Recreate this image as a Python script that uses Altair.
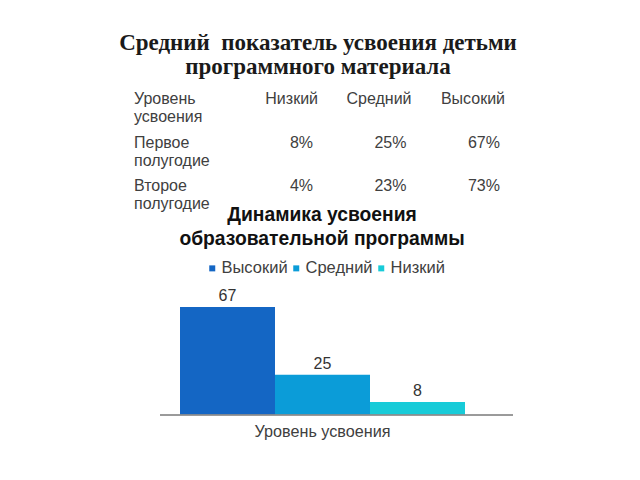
import altair as alt
import pandas as pd

# ---- data ----
slide_title = "Средний\u00a0\u00a0показатель усвоения детьми\nпрограммного материала"
chart_title = "Динамика усвоения\nобразовательной программы"

levels = ["Низкий", "Средний", "Высокий"]
first_half = [8, 25, 67]
second_half = [4, 23, 73]
row_labels = ["Уровень\nусвоения", "Первое\nполугодие", "Второе\nполугодие"]

series = ["Высокий", "Средний", "Низкий"]
series_values = [67, 25, 8]
series_colors = ["#1466C4", "#0B9CD8", "#17CBD8"]
category = "Уровень усвоения"

FONT = "Liberation Sans"

# ---- tables ----
bars_df = pd.DataFrame({"cat": [category] * 3, "series": series, "value": series_values})
rows_df = pd.DataFrame({"row": row_labels})
head_df = pd.DataFrame({"level": levels})
vals_df = pd.DataFrame({
    "level": levels * 2,
    "row": [row_labels[1]] * 3 + [row_labels[2]] * 3,
    "txt": [f"{v}%" for v in first_half] + [f"{v}%" for v in second_half],
})
title_df = pd.DataFrame({"t": [slide_title]})
ctitle_df = pd.DataFrame({"t": [chart_title]})

x_bar_scale = alt.Scale(domain=[category], range=[180, 465], paddingInner=0, paddingOuter=0)
xo_scale = alt.Scale(domain=series, paddingInner=0, paddingOuter=0)
xo_point_scale = alt.Scale(type="point", domain=series, padding=0.5)
y_bar_scale = alt.Scale(domain=[0, 80], range=[415, 286], nice=False, zero=True)
row_scale = alt.Scale(domain=row_labels, range=[91, 178], padding=0)
col_scale = alt.Scale(domain=levels, range=[313, 500], padding=0)

base_bars = alt.Chart(bars_df)

bars = base_bars.mark_bar().encode(
    x=alt.X("cat:N", scale=x_bar_scale, axis=None),
    xOffset=alt.XOffset("series:N", scale=xo_scale),
    y=alt.Y("value:Q", scale=y_bar_scale, axis=None),
    color=alt.Color(
        "series:N",
        scale=alt.Scale(domain=series, range=series_colors),
        legend=alt.Legend(
            title=None, orient="none", legendX=204, legendY=260,
            direction="horizontal", symbolType="square", symbolSize=36,
            symbolStrokeWidth=0, labelFont=FONT, labelFontSize=16.5,
            labelColor="#404040", columnPadding=0, labelOffset=1,
        ),
    ),
)

bar_labels = base_bars.mark_text(
    font=FONT, fontSize=16, dy=-11, color="#333333"
).encode(
    x=alt.X("cat:N", scale=x_bar_scale, axis=None),
    xOffset=alt.XOffset("series:N", scale=xo_point_scale),
    y=alt.Y("value:Q", scale=y_bar_scale, axis=None),
    text="value:Q",
)

baseline = base_bars.mark_rule(color="#8c8c8c", strokeWidth=1).encode(
    y=alt.Y(datum=0, scale=y_bar_scale, axis=None),
    x=alt.value(160), x2=alt.value(513),
)

cat_label = alt.Chart(pd.DataFrame({"cat": [category]})).mark_text(
    font=FONT, fontSize=16.2, color="#404040", baseline="middle"
).encode(
    x=alt.X("cat:N", scale=x_bar_scale, axis=None),
    y=alt.value(432),
    text="cat:N",
)

row_text = alt.Chart(rows_df).mark_text(
    font=FONT, fontSize=16, color="#404040", align="left", baseline="top",
    lineBreak="\n", lineHeight=18,
).encode(
    x=alt.value(134),
    y=alt.Y("row:N", scale=row_scale, axis=None),
    text="row:N",
)

head_text = alt.Chart(head_df).mark_text(
    font=FONT, fontSize=16, color="#404040", align="right", baseline="top", dx=5,
).encode(
    x=alt.X("level:N", scale=col_scale, axis=None),
    y=alt.value(91),
    text="level:N",
)

val_text = alt.Chart(vals_df).mark_text(
    font=FONT, fontSize=16, color="#404040", align="right", baseline="top",
).encode(
    x=alt.X("level:N", scale=col_scale, axis=None),
    y=alt.Y("row:N", scale=row_scale, axis=None),
    text="txt:N",
)

title_text = alt.Chart(title_df).mark_text(
    font="Liberation Serif", fontSize=23, fontWeight="bold", color="#1a1a1a",
    align="center", baseline="middle", lineBreak="\n", lineHeight=24,
).encode(x=alt.value(318), y=alt.value(43), text="t:N")

ctitle_text = alt.Chart(ctitle_df).mark_text(
    font=FONT, fontSize=19.3, fontWeight="bold", color="#111111",
    align="center", baseline="middle", lineBreak="\n", lineHeight=24,
).encode(x=alt.value(322), y=alt.value(215), text="t:N")

chart = alt.layer(
    title_text, row_text, head_text, val_text, ctitle_text,
    bars, bar_labels, baseline, cat_label,
).resolve_scale(
    x="independent", y="independent", color="independent", xOffset="independent"
).properties(
    width=640, height=480, padding=0,
    autosize=alt.AutoSizeParams(type="none"),
    background="white",
).configure_view(stroke=None)

chart.save("out.html", embed_options={"renderer": "svg", "actions": False})
